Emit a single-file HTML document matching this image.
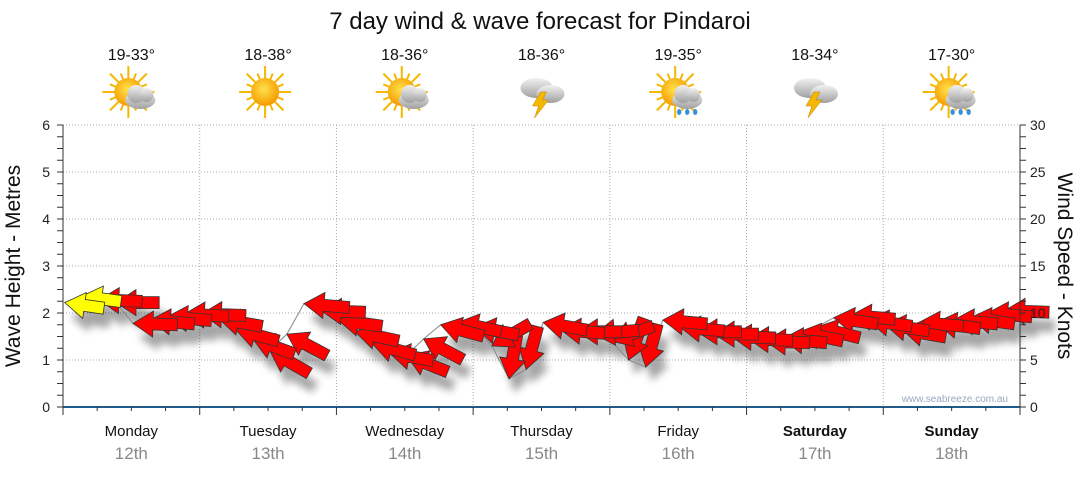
<!DOCTYPE html>
<html><head><meta charset="utf-8"><style>
body{margin:0;background:#fff;width:1080px;height:475px;overflow:hidden;font-family:"Liberation Sans",sans-serif}
</style></head><body>
<svg id="c" width="1080" height="475" xmlns="http://www.w3.org/2000/svg">
<defs>
<filter id="sh" x="-50%" y="-50%" width="200%" height="250%"><feGaussianBlur stdDeviation="4"/></filter>
<radialGradient id="sun" cx="45%" cy="40%" r="60%"><stop offset="0" stop-color="#ffe24a"/><stop offset="1" stop-color="#f59a00"/></radialGradient>
<linearGradient id="cl" x1="0" y1="0" x2="0" y2="1"><stop offset="0" stop-color="#f2f2f2"/><stop offset="1" stop-color="#a0a0a0"/></linearGradient>
</defs>
<text x="540" y="29" text-anchor="middle" font-size="24" fill="#111">7 day wind &amp; wave forecast for Pindaroi</text>
<g id="icons"></g>
<g id="grid"></g>
<g id="shadow" filter="url(#sh)" opacity="0.35"></g>
<g id="marks"></g>
<g id="axes"></g>
<text x="1008" y="402" text-anchor="end" font-size="10" fill="#9aa8c0">www.seabreeze.com.au</text>
<text transform="translate(20,266) rotate(-90)" text-anchor="middle" font-size="21" fill="#111">Wave Height - Metres</text>
<text transform="translate(1058,266) rotate(90)" text-anchor="middle" font-size="21" fill="#111">Wind Speed - Knots</text>
</svg>
<script>
const days=["Monday","Tuesday","Wednesday","Thursday","Friday","Saturday","Sunday"];
const dates=["12th","13th","14th","15th","16th","17th","18th"];
const temps=["19-33°","18-38°","18-36°","18-36°","19-35°","18-34°","17-30°"];
const weather=["partly","sunny","partly","storm","rain","storm","rain"];
const waveTicks=[0,1,2,3,4,5,6];
const windTicks=[0,5,10,15,20,25,30];
// wave height (m) every 3 hours
const waveHeight=[2.22,2.36,2.28,2.22,1.78,1.85,1.92,1.98,
 1.98,1.88,1.65,1.45,1.20,1.55,2.20,2.05,
 1.85,1.60,1.35,1.15,1.10,1.45,1.75,1.80,
 1.70,1.30,0.60,0.80,1.80,1.65,1.60,1.55,
 1.40,1.00,0.85,1.85,1.70,1.60,1.55,1.50,
 1.45,1.40,1.45,1.60,1.70,1.90,1.95,1.85,
 1.75,1.65,1.80,1.80,1.85,1.90,2.00,2.05];
// wind speed (knots)
const windSpeed=[8,8,11,11,12,12,12,12,
 12,12,12,12,13,13,13,12,
 12,12,12,12,12,12,12,12,
 12,12,12,12,12,12,12,12,
 12,12,12,12,12,12,12,12,
 12,12,12,12,12,12,12,12,
 12,12,12,12,12,12,12,12];
// wind from direction (compass degrees)
const windFrom=[98,98,92,90,92,95,95,93,
 92,100,105,110,120,118,95,92,
 98,102,105,100,112,118,105,102,
 100,60,10,15,100,95,90,85,
 70,20,15,95,95,90,90,92,
 92,92,95,102,104,98,95,98,
 98,100,95,98,95,98,95,92];
const X0=63,X1=1020,Y0=407,Y1=125;
const xs=i=>X0+(X1-X0)*(i+0.1)/56;
const yw=v=>Y0-(Y0-Y1)*v/6;
const yk=v=>Y0-(Y0-Y1)*v/30;
const NS="http://www.w3.org/2000/svg";
function mk(t,a,p){const e=document.createElementNS(NS,t);for(const k in a)e.setAttribute(k,a[k]);(p||document.getElementById('c')).appendChild(e);return e;}
const grid=document.getElementById('grid'),axes=document.getElementById('axes');
const dw=(X1-X0)/7;
for(const v of waveTicks){if(v>0){const l=mk('line',{x1:X0,x2:X1,y1:yw(v),y2:yw(v),stroke:'#aaa','stroke-dasharray':'1,2'},grid);}
 const t=mk('text',{x:50,y:yw(v)+5,'text-anchor':'end','font-size':14,fill:'#222'},axes);t.textContent=v;
 }
for(const v of windTicks){const t=mk('text',{x:1030,y:yk(v)+5,'font-size':14,fill:'#222'},axes);t.textContent=v;
 }
for(let i=0;i<=24;i++){const y=Y0-(Y0-Y1)*i/24;mk('line',{x1:X0-6,x2:X0,y1:y,y2:y,stroke:'#333'},axes);mk('line',{x1:X1,x2:X1+6,y1:y,y2:y,stroke:'#333'},axes);}
mk('line',{x1:X0,x2:X0,y1:Y1,y2:Y0,stroke:'#333'},axes);mk('line',{x1:X1,x2:X1,y1:Y1,y2:Y0,stroke:'#333'},axes);
mk('line',{x1:X0,x2:X1,y1:Y0,y2:Y0,stroke:'#1f5a8a','stroke-width':2},axes);
for(let i=0;i<=28;i++){const x=X0+dw*i/4;mk('line',{x1:x,x2:x,y1:Y0,y2:Y0+(i%4?4:8),stroke:'#333'},axes);}
for(let d=0;d<7;d++){const cx=X0+dw*(d+0.5);
 if(d>0){const l=mk('line',{x1:X0+dw*d,x2:X0+dw*d,y1:Y1,y2:Y0,stroke:'#aaa','stroke-dasharray':'1,2'},grid);}
 const a=mk('text',{x:cx,y:436,'text-anchor':'middle','font-size':15,fill:'#111','font-weight':d>=5?'bold':'normal'},axes);a.textContent=days[d];
 
 const b=mk('text',{x:cx,y:459,'text-anchor':'middle','font-size':17,fill:'#888'},axes);b.textContent=dates[d];
 
 const t=mk('text',{x:cx,y:60,'text-anchor':'middle','font-size':16,fill:'#111'});t.textContent=temps[d];
 
 const g=mk('g',{transform:`translate(${cx-3},${92})`},document.getElementById('icons'));
 
 const w=weather[d];
 if(w!=='storm'){for(let r=0;r<16;r++){const an=r*Math.PI/8,L=r%2?20:26;mk('line',{x1:0,y1:0,x2:L*Math.cos(an),y2:L*Math.sin(an),stroke:'#f5b800','stroke-width':2},g);}
  mk('circle',{cx:0,cy:0,r:14,fill:'url(#sun)'},g);}
 if(w==='partly'||w==='rain'){mk('ellipse',{cx:12,cy:8,rx:15,ry:9,fill:'url(#cl)'},g);mk('circle',{cx:8,cy:2,r:9,fill:'url(#cl)'},g);mk('circle',{cx:18,cy:3,r:7,fill:'url(#cl)'},g);}
 if(w==='rain'){for(let k=0;k<3;k++)mk('ellipse',{cx:4+k*8,cy:20,rx:2.2,ry:3,fill:'#3a8fd8'},g);}
 if(w==='storm'){mk('ellipse',{cx:-2,cy:-4,rx:16,ry:10,fill:'url(#cl)'},g);mk('ellipse',{cx:12,cy:2,rx:14,ry:9,fill:'url(#cl)'},g);
  mk('polygon',{points:'2,0 -6,14 0,14 -4,26 10,8 4,8 8,0',fill:'#f5b800',stroke:'#c08000','stroke-width':0.5},g);}
}
const pts=waveHeight.map((v,i)=>xs(i)+','+yw(v)).join(' ');
mk('polyline',{points:pts,fill:'none',stroke:'#888','stroke-width':1},document.getElementById('marks'));
const sh=document.getElementById('shadow'),mg=document.getElementById('marks');
function arrowPts(L){return `0,0 20,-13 20,-6 ${L},-6 ${L},6 20,6 20,13`;}
for(let i=waveHeight.length-1;i>=0;i--){
 const x=xs(i),y=yw(waveHeight[i]),L=30+windSpeed[i]*1.2;
 const rot=windFrom[i]-90; // arrow points left at rot 0 (wind from east)
 mk('polygon',{points:arrowPts(L),transform:`translate(${x+6},${y+14}) rotate(${rot})`,fill:'#000'},sh);
 const p=mk('polygon',{points:arrowPts(L),transform:`translate(${x},${y}) rotate(${rot})`,fill:windSpeed[i]<10?'#ffff00':'#ff0000',stroke:'#333','stroke-width':0.8},mg);
 
 
}
</script>
</body></html>
